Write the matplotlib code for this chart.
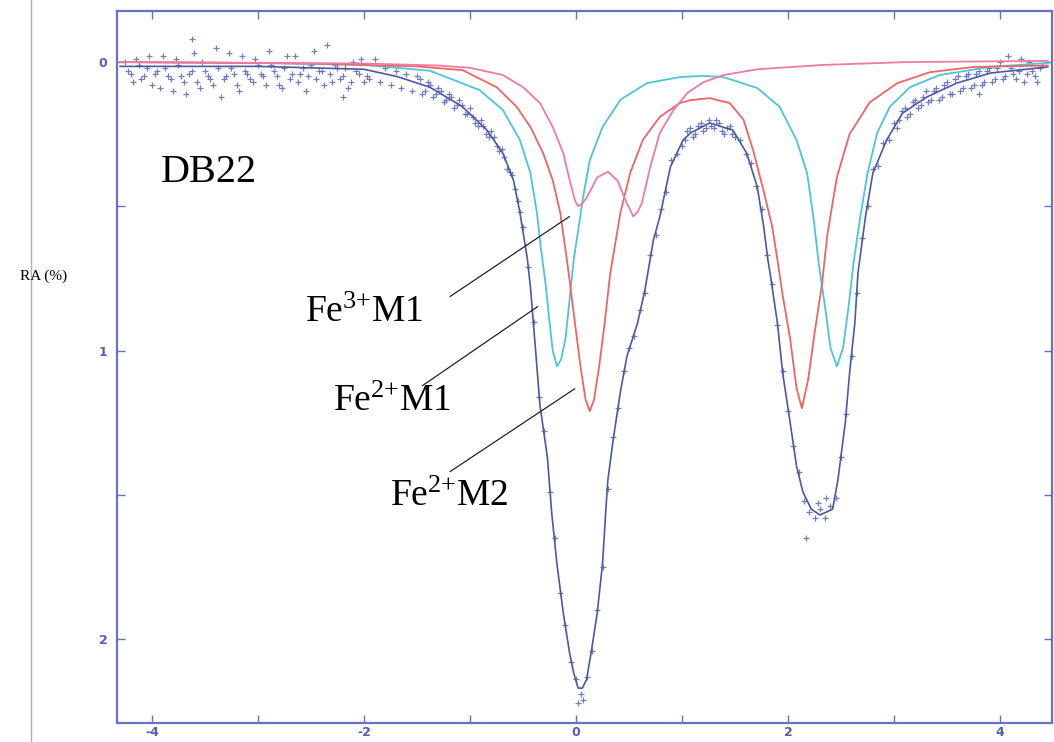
import matplotlib
matplotlib.use('Agg')
import matplotlib.pyplot as plt
from matplotlib.lines import Line2D

plt.rcParams['font.family'] = 'DejaVu Sans'
plt.rcParams['mathtext.fontset'] = 'custom'
plt.rcParams['mathtext.rm'] = 'Liberation Serif'
plt.rcParams['mathtext.it'] = 'Liberation Serif:italic'
plt.rcParams['axes.unicode_minus'] = False

# ===== measured spectrum (velocity mm/s, relative absorption %) =====
vel = [-4.25, -4.20, -4.15, -4.10, -4.05, -4.00, -3.95, -3.90, -3.85, -3.80,
       -3.75, -3.70, -3.65, -3.60, -3.55, -3.50, -3.45, -3.40, -3.35, -3.30,
       -3.25, -3.20, -3.15, -3.10, -3.05, -3.00, -2.95, -2.90, -2.85, -2.80,
       -2.75, -2.70, -2.65, -2.60, -2.55, -2.50, -2.45, -2.40, -2.35, -2.30,
       -2.25, -2.20, -2.15, -2.10, -2.05, -2.00, -1.95, -1.90, -1.85, -1.80,
       -1.75, -1.70, -1.65, -1.60, -1.55, -1.50, -1.45, -1.40, -1.35, -1.30,
       -1.25, -1.20, -1.15, -1.10, -1.05, -1.00, -0.95, -0.90, -0.85, -0.80,
       -0.75, -0.70, -0.65, -0.60, -0.55, -0.50, -0.45, -0.40, -0.35, -0.30,
       -0.25, -0.20, -0.15, -0.10, -0.05, 0.00, 0.05, 0.10, 0.15, 0.20,
       0.25, 0.30, 0.35, 0.40, 0.45, 0.50, 0.55, 0.60, 0.65, 0.70,
       0.75, 0.80, 0.85, 0.90, 0.95, 1.00, 1.05, 1.10, 1.15, 1.20,
       1.25, 1.30, 1.35, 1.40, 1.45, 1.50, 1.55, 1.60, 1.65, 1.70,
       1.75, 1.80, 1.85, 1.90, 1.95, 2.00, 2.05, 2.10, 2.15, 2.20,
       2.25, 2.30, 2.35, 2.40, 2.45, 2.50, 2.55, 2.60, 2.65, 2.70,
       2.75, 2.80, 2.85, 2.90, 2.95, 3.00, 3.05, 3.10, 3.15, 3.20,
       3.25, 3.30, 3.35, 3.40, 3.45, 3.50, 3.55, 3.60, 3.65, 3.70,
       3.75, 3.80, 3.85, 3.90, 3.95, 4.00, 4.05, 4.10, 4.15, 4.20,
       4.25, 4.30, 4.35, 4.40,
       0.02, 0.07, 2.17, 2.28, 2.36, -3.62, -2.20, 3.80]
absorb = [0.00, 0.04, -0.01, 0.06, 0.02, 0.08, 0.03, -0.02, 0.05, 0.10,
          0.01, 0.07, 0.04, -0.03, 0.09, 0.03, 0.06, -0.05, 0.12, 0.05,
          0.02, 0.08, -0.02, 0.04, 0.07, 0.01, 0.05, -0.04, 0.03, 0.08,
          0.02, 0.06, -0.02, 0.04, 0.10, 0.01, 0.06, 0.03, -0.06, 0.07,
          0.02, 0.05, 0.09, 0.00, 0.04, 0.07, 0.06, -0.01, 0.07, 0.02,
          0.08, 0.03, 0.09, 0.04, 0.10, 0.05, 0.11, 0.07, 0.12, 0.09,
          0.14, 0.11, 0.16, 0.13, 0.18, 0.16, 0.21, 0.20, 0.25, 0.24,
          0.29, 0.30, 0.37, 0.39, 0.48, 0.57, 0.71, 0.90, 1.16, 1.28,
          1.49, 1.65, 1.84, 1.95, 2.08, 2.14, 2.19, 2.13, 2.04, 1.90,
          1.75, 1.48, 1.30, 1.20, 1.07, 0.99, 0.95, 0.86, 0.80, 0.67,
          0.60, 0.51, 0.45, 0.34, 0.32, 0.29, 0.24, 0.26, 0.22, 0.24,
          0.20, 0.23, 0.21, 0.25, 0.22, 0.26, 0.27, 0.32, 0.35, 0.43,
          0.51, 0.67, 0.77, 0.91, 1.07, 1.21, 1.33, 1.42, 1.52, 1.56,
          1.58, 1.55, 1.58, 1.54, 1.51, 1.37, 1.22, 1.02, 0.80, 0.61,
          0.50, 0.37, 0.36, 0.28, 0.27, 0.21, 0.20, 0.16, 0.18, 0.13,
          0.15, 0.10, 0.13, 0.09, 0.12, 0.07, 0.11, 0.05, 0.09, 0.04,
          0.08, 0.03, 0.07, 0.02, 0.06, 0.00, 0.05, 0.02, 0.06, -0.01,
          0.04, 0.03, 0.07, 0.01,
          2.22, 2.21, 1.65, 1.53, 1.51, -0.08, 0.12, 0.11]

# second (folded) half of the channels in the flat parts
vel2 = [-4.225, -4.175, -4.125, -4.075, -4.025, -3.975, -3.925, -3.875, -3.825, -3.775,
        -3.725, -3.675, -3.625, -3.575, -3.525, -3.475, -3.425, -3.375, -3.325, -3.275,
        -3.225, -3.175, -3.125, -3.075, -3.025, -2.975, -2.925, -2.875, -2.825, -2.775,
        -2.725, -2.675, -2.625, -2.575, -2.525, -2.475, -2.425, -2.375, -2.325, -2.275,
        -2.225, -2.175, -2.125, -2.075, -2.025, -1.975,
        -1.475, -1.425, -1.375, -1.325, -1.275, -1.225, -1.175, -1.125, -1.075, -1.025,
        -0.975, -0.925, -0.875, -0.825, -0.775, -0.725, -0.675, -0.625, -0.575, -0.525,
        1.025, 1.075, 1.125, 1.175, 1.225, 1.275, 1.325, 1.375, 1.425, 1.475,
        3.025, 3.075, 3.125, 3.175, 3.225, 3.275, 3.325, 3.375, 3.425, 3.475,
        3.525, 3.575, 3.625, 3.675, 3.725, 3.775, 3.825, 3.875, 3.925, 3.975,
        4.025, 4.075, 4.125, 4.175, 4.225, 4.275, 4.325, 4.375]
absorb2 = [0.03, 0.07, 0.01, 0.05, -0.02, 0.04, 0.09, 0.02, 0.06, -0.01,
           0.05, 0.11, 0.03, 0.07, 0.00, 0.05, 0.08, 0.02, 0.06, -0.03,
           0.04, 0.10, 0.03, 0.06, -0.01, 0.04, 0.08, 0.01, 0.05, 0.09,
           -0.02, 0.04, 0.07, 0.02, 0.05, -0.04, 0.03, 0.08, 0.04, 0.01,
           0.06, 0.02, 0.07, 0.03, -0.01, 0.05,
           0.06, 0.10, 0.08, 0.11, 0.10, 0.13, 0.12, 0.15, 0.15, 0.18,
           0.19, 0.22, 0.22, 0.26, 0.26, 0.31, 0.33, 0.38, 0.44, 0.52,
           0.27, 0.23, 0.25, 0.21, 0.23, 0.22, 0.20, 0.24, 0.23, 0.25,
           0.23, 0.17, 0.19, 0.14, 0.16, 0.12, 0.14, 0.10, 0.13, 0.08,
           0.11, 0.06, 0.10, 0.05, 0.09, 0.04, 0.08, 0.03, 0.07, 0.02,
           0.06, -0.02, 0.04, 0.03, 0.07, 0.00, 0.05, 0.02]

# ===== fitted envelope =====
fit_v = [-4.30, -3.00, -2.00, -1.69, -1.38, -1.07, -0.84, -0.69, -0.59, -0.53,
         -0.46, -0.43, -0.39, -0.34, -0.27, -0.23, -0.18, -0.12, -0.06, -0.02,
         0.02, 0.06, 0.10, 0.15, 0.20, 0.25, 0.28, 0.30, 0.35, 0.42,
         0.48, 0.58, 0.65, 0.73, 0.79, 0.89, 1.01, 1.08, 1.26, 1.48,
         1.61, 1.71, 1.77, 1.81, 1.83, 1.90, 1.95, 2.02, 2.08, 2.14,
         2.22, 2.30, 2.42, 2.47, 2.54, 2.58, 2.63, 2.66, 2.73, 2.80,
         2.93, 3.08, 3.31, 3.59, 3.91, 4.45]
fit_a = [0.015, 0.015, 0.025, 0.05, 0.087, 0.155, 0.236, 0.316, 0.41, 0.52,
         0.68, 0.78, 0.96, 1.19, 1.37, 1.56, 1.74, 1.91, 2.05, 2.12,
         2.17, 2.17, 2.14, 2.03, 1.91, 1.74, 1.56, 1.45, 1.31, 1.14,
         1.02, 0.905, 0.79, 0.617, 0.537, 0.364, 0.27, 0.246, 0.211, 0.236,
         0.316, 0.433, 0.57, 0.686, 0.73, 0.905, 1.08, 1.25, 1.40, 1.49,
         1.55, 1.57, 1.55, 1.45, 1.25, 1.08, 0.905, 0.73, 0.537, 0.385,
         0.27, 0.177, 0.121, 0.073, 0.038, 0.017]

# ===== Fe2+ M1 doublet =====
m1_v = [-4.30, -3.00, -2.00, -1.38, -0.91, -0.69, -0.53, -0.43, -0.37, -0.33,
        -0.29, -0.25, -0.22, -0.18, -0.14, -0.10, -0.06, -0.02, 0.03, 0.07,
        0.13, 0.25, 0.42, 0.67, 0.98, 1.20, 1.39, 1.71, 1.92, 2.08,
        2.18, 2.24, 2.29, 2.35, 2.40, 2.46, 2.52, 2.57, 2.62, 2.68,
        2.75, 2.84, 2.96, 3.15, 3.43, 3.90, 4.45]
m1_a = [0.0, 0.003, 0.01, 0.03, 0.097, 0.166, 0.27, 0.385, 0.52, 0.65,
        0.76, 0.90, 1.00, 1.055, 1.03, 0.96, 0.82, 0.68, 0.56, 0.46,
        0.34, 0.225, 0.13, 0.073, 0.052, 0.048, 0.052, 0.09, 0.155, 0.27,
        0.385, 0.54, 0.70, 0.85, 0.99, 1.055, 0.99, 0.85, 0.69, 0.54,
        0.385, 0.246, 0.155, 0.087, 0.045, 0.017, 0.003]

# ===== Fe2+ M2 doublet =====
m2_v = [-4.30, -2.50, -1.50, -1.07, -0.75, -0.56, -0.43, -0.31, -0.22, -0.15,
        -0.10, -0.07, -0.01, 0.04, 0.09, 0.13, 0.17, 0.22, 0.27, 0.32,
        0.36, 0.42, 0.51, 0.63, 0.79, 0.98, 1.08, 1.26, 1.45, 1.58,
        1.67, 1.76, 1.85, 1.90, 1.95, 2.02, 2.08, 2.13, 2.19, 2.25,
        2.32, 2.37, 2.46, 2.58, 2.77, 3.03, 3.34, 3.75, 4.45]
m2_a = [0.0, 0.005, 0.015, 0.028, 0.087, 0.155, 0.225, 0.316, 0.41, 0.52,
        0.65, 0.73, 0.905, 1.05, 1.17, 1.21, 1.17, 1.05, 0.905, 0.74,
        0.65, 0.52, 0.385, 0.27, 0.19, 0.142, 0.132, 0.125, 0.142, 0.20,
        0.305, 0.433, 0.57, 0.686, 0.81, 0.96, 1.13, 1.20, 1.10, 0.94,
        0.77, 0.60, 0.40, 0.25, 0.14, 0.073, 0.035, 0.017, 0.012]

# ===== Fe3+ M1 doublet =====
f3_v = [-4.30, -2.00, -1.30, -1.00, -0.69, -0.50, -0.34, -0.22, -0.12, -0.06,
        -0.01, 0.02, 0.06, 0.10, 0.20, 0.30, 0.39, 0.48, 0.54, 0.58,
        0.62, 0.70, 0.79, 0.92, 1.05, 1.20, 1.39, 1.71, 2.33, 3.12, 4.45]
f3_a = [0.0, 0.005, 0.012, 0.02, 0.045, 0.087, 0.142, 0.225, 0.316, 0.41,
        0.48, 0.50, 0.49, 0.47, 0.40, 0.38, 0.41, 0.49, 0.535, 0.52,
        0.49, 0.364, 0.246, 0.166, 0.107, 0.07, 0.045, 0.025, 0.01, 0.0, -0.004]

labels = ['Fe$^{3{+}}$M1', 'Fe$^{2{+}}$M1', 'Fe$^{2{+}}$M2']

fig = plt.figure(figsize=(10.54, 7.42), dpi=100)
ax = fig.add_axes([117 / 1054, 1 - 723 / 742, 935 / 1054, 712 / 742])

axis_col = '#6673c4'
for xs, ys in [(vel, absorb), (vel2, absorb2)]:
    ax.plot(xs, ys, linestyle='none', marker='+', markersize=4.5,
            markeredgewidth=0.9, color='#5a68b8', alpha=0.85, zorder=2)
ax.plot(fit_v, fit_a, color='#4a58a8', lw=1.2, zorder=3)
ax.plot(m1_v, m1_a, color='#4cc6d6', lw=1.3, zorder=4)
ax.plot(m2_v, m2_a, color='#f06464', lw=1.3, zorder=4)
ax.plot(f3_v, f3_a, color='#f27aa2', lw=1.3, zorder=4)

ax.set_xlim(-4.33, 4.49)
ax.set_ylim(2.291, -0.177)

ax.set_xticks([-4, -2, 0, 2, 4])
ax.set_xticks([-3, -1, 1, 3], minor=True)
ax.set_yticks([0, 1, 2])
ax.set_yticks([0.5, 1.5], minor=True)
ax.tick_params(which='both', direction='in', top=True, right=True,
               length=6, width=1, color=axis_col, labelcolor='#5262b4',
               labelsize=9)
ax.tick_params(axis='x', pad=2)
ax.tick_params(axis='y', pad=7)
for lab in ax.get_xticklabels() + ax.get_yticklabels():
    lab.set_fontweight('bold')
for sp in ax.spines.values():
    sp.set_color(axis_col)
    sp.set_linewidth(1.6)

# sample name and site labels
ax.text(-3.92, 0.416, 'DB22', family='Liberation Serif', fontsize=29,
        ha='left', va='baseline')
label_pos = [(-2.56, 0.90), (-2.29, 1.21), (-1.755, 1.54)]
line_ends = [((-1.21, 0.818), (-0.04, 0.53)),
             ((-1.47, 1.127), (-0.34, 0.842)),
             ((-1.21, 1.425), (0.01, 1.127))]
for lab, (tx, ty), (p0, p1) in zip(labels, label_pos, line_ends):
    ax.text(tx, ty, lab, family='Liberation Serif', fontsize=27,
            ha='left', va='baseline', zorder=6)
    ax.annotate('', xy=p1, xytext=p0,
                arrowprops=dict(arrowstyle='-', color='#222222', lw=0.9),
                zorder=6)

fig.text(20 / 1054, 1 - 276 / 742, 'RA (%)', family='Liberation Serif',
         fontsize=11, ha='left', va='center')
fig.add_artist(Line2D([31 / 1054, 31 / 1054], [0, 1], color='#b0b0b0', lw=1))

plt.savefig('out.png', dpi=100)
